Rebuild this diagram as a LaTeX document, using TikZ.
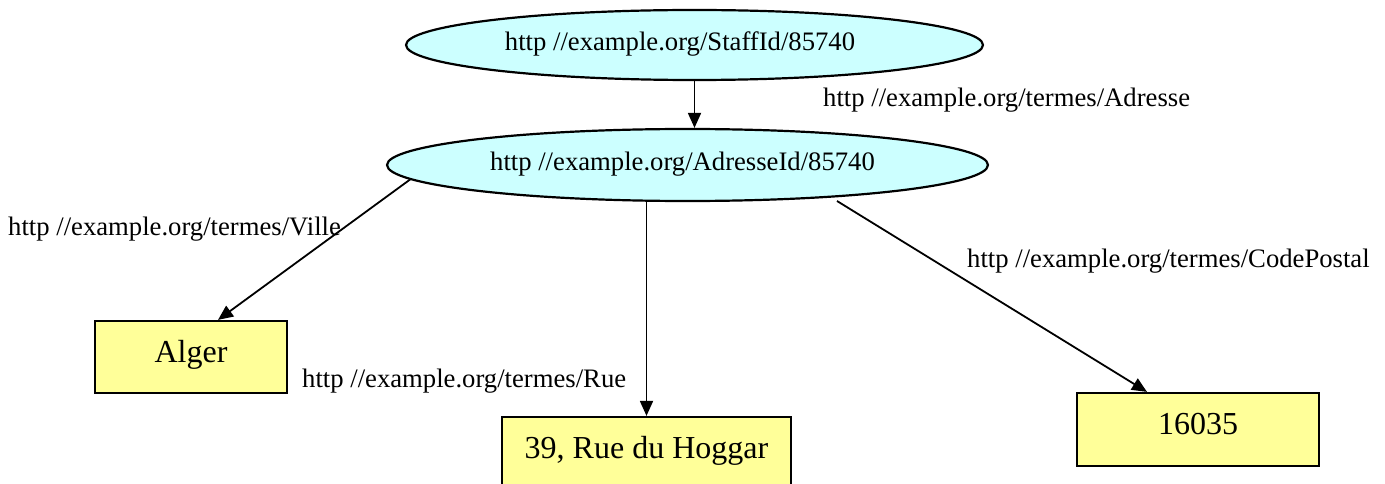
\documentclass[tikz,border=0pt]{standalone}
\usepackage{fontspec}
\setmainfont{Liberation Serif}
\usetikzlibrary{shapes.geometric,arrows.meta}
\definecolor{resfill}{HTML}{CCFFFF}
\definecolor{litfill}{HTML}{FFFF99}
\begin{document}
\begin{tikzpicture}[x=1pt,y=-1pt,
  resource/.style={ellipse,draw,line width=2.2pt,fill=resfill,inner sep=0pt},
  restext/.style={inner sep=0pt,font=\fontsize{26.67}{32}\selectfont,text height=18pt,text depth=6pt},
  literal/.style={rectangle,draw,line width=2.2pt,fill=litfill,inner sep=0pt,
    font=\fontsize{32}{38}\selectfont,text height=20pt,text depth=10pt},
  prop/.style={anchor=base west,inner sep=0pt,font=\fontsize{26.67}{32}\selectfont},
  link/.style={line width=1.8pt,-{Triangle[length=15pt,width=13pt]}}]
\useasboundingbox (0,0) rectangle (1385,484);
\clip (0,0) rectangle (1385,484);

% resources (their text sits a little left of the ellipse centre)
\node[resource,minimum width=577pt,minimum height=70pt,
  label={[restext,xshift=-14.5pt]center:http //example.org/StaffId/85740}] (staff) at (694.5,45) {};
\node[resource,minimum width=601pt,minimum height=72pt,
  label={[restext,xshift=-5pt]center:http //example.org/AdresseId/85740}] (adr) at (687.5,165) {};

% literals
\node[literal,minimum width=192pt,minimum height=72pt] (alger) at (191,357) {Alger};
\node[literal,minimum width=289pt,minimum height=72pt] (rue) at (646.5,453) {39, Rue du Hoggar};
\node[literal,minimum width=242pt,minimum height=73pt] (cp) at (1198,429.5) {16035};

% property labels
\node[prop] (lAdr) at (823,107) {http //example.org/termes/Adresse};
\node[prop] (lVille) at (8,236) {http //example.org/termes/Ville};
\node[prop] (lRue) at (302,387) {http //example.org/termes/Rue};
\node[prop] (lCp) at (967,267) {http //example.org/termes/CodePostal};

% statements
\draw[link] (staff.south) -- (staff.south |- adr.north);
\draw[link] (adr.183.66) -- ([xshift=27pt]alger.north);
\draw[link] (adr.south -| rue.north) -- (rue.north);
\draw[link] ([shift={(149.5pt,-36pt)}]adr.center) -- ([xshift=-51pt]cp.north);
\end{tikzpicture}
\end{document}
